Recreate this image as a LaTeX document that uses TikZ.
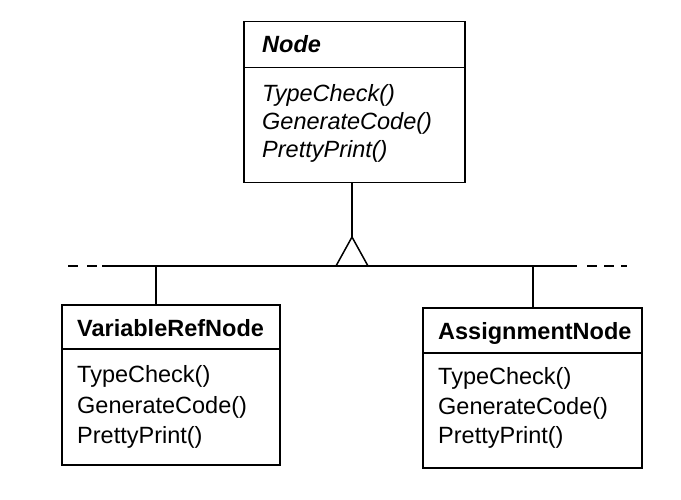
\documentclass[tikz,border=0pt]{standalone}
\usepackage{fontspec}
\setmainfont{Liberation Sans}
\begin{document}
\begin{tikzpicture}[x=1pt,y=-1pt,
  cls/.style={draw,line width=1.5pt,rectangle,inner sep=0pt,anchor=north west},
  txt/.style={anchor=base west,inner sep=0pt,font=\fontsize{23.5}{28}\selectfont},
  ln/.style={line width=1.5pt}]
\useasboundingbox (0,0) rectangle (681,500);
% Node (abstract)
\node[cls,minimum width=221pt,minimum height=46pt] (nt) at (243,21) {};
\node[cls,minimum width=221pt,minimum height=115pt] (nm) at (243,67) {};
\node[txt,font=\fontsize{23.5}{28}\selectfont\bfseries\itshape] at (262,53) {Node};
\node[txt,font=\fontsize{23.5}{28}\selectfont\itshape] at (262,102) {TypeCheck()};
\node[txt,font=\fontsize{23.5}{28}\selectfont\itshape] at (262,130) {GenerateCode()};
\node[txt,font=\fontsize{23.5}{28}\selectfont\itshape] at (262,158) {PrettyPrint()};
% VariableRefNode
\node[cls,minimum width=218pt,minimum height=44pt] (vt) at (61,304) {};
\node[cls,minimum width=218pt,minimum height=116pt] (vm) at (61,348) {};
\node[txt,font=\fontsize{23.5}{28}\selectfont\bfseries] at (77,337) {VariableRefNode};
\node[txt] at (77,382) {TypeCheck()};
\node[txt] at (77,413) {GenerateCode()};
\node[txt] at (77,443) {PrettyPrint()};
% AssignmentNode
\node[cls,minimum width=219pt,minimum height=45pt] (at) at (422,307) {};
\node[cls,minimum width=219pt,minimum height=115pt] (am) at (422,352) {};
\node[txt,font=\fontsize{23.5}{28}\selectfont\bfseries] at (438,339) {AssignmentNode};
\node[txt] at (438,384) {TypeCheck()};
\node[txt] at (438,414) {GenerateCode()};
\node[txt] at (438,443) {PrettyPrint()};
% inheritance
\coordinate (apex) at (352,237);
\coordinate (bl) at (336,266);
\coordinate (br) at (368,266);
\coordinate (hl) at (102,266);
\coordinate (hr) at (577,266);
\coordinate (dl) at (68,266);
\coordinate (dr) at (627,266);
\coordinate (vc) at (156,266);
\coordinate (ac) at (533,266);
\draw[ln] (nm.south -| apex) -- (apex);
\draw[ln,line join=miter] (bl) -- (apex) -- (br);
\draw[ln] (hl) -- (hr);
\draw[ln,dash pattern=on 10pt off 9pt] (dl) -- (hl);
\draw[ln,dash pattern=on 10pt off 7pt] (hr) ++(10,0) -- (dr);
\draw[ln] (vc) -- (vc |- vt.north);
\draw[ln] (ac) -- (ac |- at.north);
\end{tikzpicture}
\end{document}
